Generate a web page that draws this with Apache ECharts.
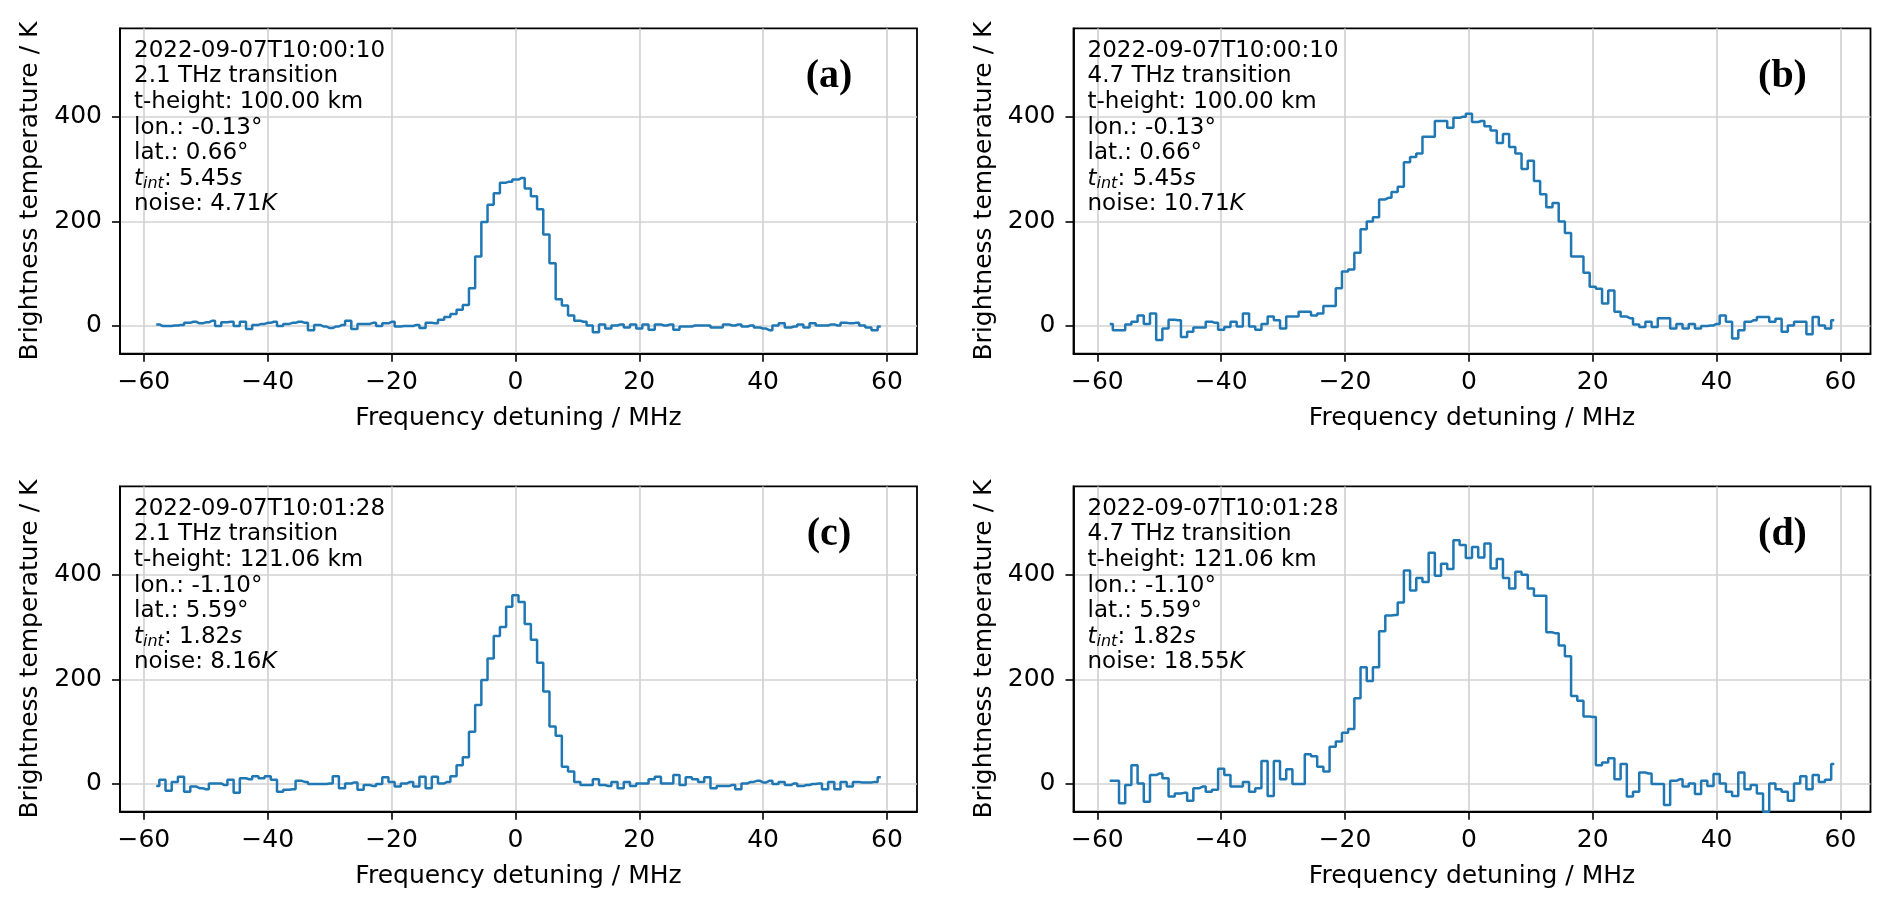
<!DOCTYPE html>
<html>
<head>
<meta charset="utf-8">
<title>Spectra</title>
<script src="https://cdn.jsdelivr.net/npm/echarts@6.0.0/dist/echarts.min.js"></script>
<style>
  html, body { margin: 0; padding: 0; background: #fff; }
  #main { width: 1892px; height: 909px; }
</style>
</head>
<body>
<div id="main"></div>
<script>
// frequency detuning in MHz (channel centres)
var freqs = [
  -58, -57, -56, -55, -54, -53, -52, -51, -50, -49, -48, -47, -46, -45, -44, -43, -42, -41, -40, -39,
  -38, -37, -36, -35, -34, -33, -32, -31, -30, -29, -28, -27, -26, -25, -24, -23, -22, -21, -20, -19,
  -18, -17, -16, -15, -14, -13, -12, -11, -10, -9, -8, -7, -6, -5, -4, -3, -2, -1, 0, 1,
  2, 3, 4, 5, 6, 7, 8, 9, 10, 11, 12, 13, 14, 15, 16, 17, 18, 19, 20, 21,
  22, 23, 24, 25, 26, 27, 28, 29, 30, 31, 32, 33, 34, 35, 36, 37, 38, 39, 40, 41,
  42, 43, 44, 45, 46, 47, 48, 49, 50, 51, 52, 53, 54, 55, 56, 57, 58, 59
];

// brightness temperature / K
var specA = [
  3, 0, 0, 1, 2, 6, 8, 5, 7, 10, 0, 7, 8, 0, 8, -6, 2, 4, 6, 8,
  0, 4, 6, 8, 6, -8, 2, -1, -4, -1, 2, 10, -6, 4, 4, 6, 0, 5, 8, -1,
  0, 0, 2, -4, 6, 5, 12,
  17, 23, 31, 40, 72, 133, 199, 232, 254, 274, 276, 280, 283, 263, 248, 223, 175, 120, 51, 39,
  20, 10, 8, 1, -12,
  3, -5, 1, 3, -3, 3, -5, 3, -7, 3, 1, 3, -7, -1, -1, 1, 1, 1, -3, -3,
  3, 1, 3, -1, 1, -3, -5, -8, 1, 5, -3, -1, 3, -3, 5, 1, 1, 3, 1, 6,
  5, 6, 1, -3, -8, -1
];
var specB = [
  4, -8, -8, 3, 8, 20, 4, 24, -27, -5, 12, 11, -21, -11, -3, -3, 8, 6, -7, -2,
  8, -1, 24, -1, -7, 4, 18, 11, -5, 18, 18, 27, 27, 20, 24,
  38, 38, 72, 104, 108, 140, 185, 200, 208, 242, 245, 256, 266, 313, 323, 330, 362, 362, 392, 392,
  379, 398, 400, 406,
  390, 392, 382, 374, 350, 367, 342, 330, 300, 316, 277, 252, 227, 235, 200, 178, 133, 133, 102, 75,
  71, 43, 68, 27, 18, 15, 3, -2, 8, -2, 15, 15, -5, 4, -5, 4, -5, 0, 1, 4,
  20, 8, -24, -8, 8, 11, 17, 17, 8, 14, -11, 1, 8, 8, -16, 17, 1, -5, 11
];
var specC = [
  -4, 8, -13, 4, 14, -15, -5, -8, -10, 1, 1, -2, 8, -17, 11, 9, 15, 11, 15, 8,
  -15, -11, -10, 6, 4, 0, 0, 0, 1, 15, -8, 1, 3, -11, -2, -4, 0, 13, 4, -5,
  1, 4, -5, 14, -8, 14, 1, 4, 15,
  36, 51, 100, 151, 199, 240, 283, 300, 339, 361, 348, 306, 276, 232, 177, 110, 92, 33, 24, 4,
  -2, -2,
  9, -2, -4, 4, -8, 4, -4, 1, 1, 9, 14, 1, 1, 17, -2, 13, 9, 4, 13, -8,
  -4, -4, -2, -10, 1, 4, 6, 3, 6, 0, 4, -2, 1, -4, -2, 0, 1, -10, 4, -10,
  4, -5, 4, 3, 3, 4, 13
];
var specD = [
  6, 6, -37, -2, 36, 1, -34, 17, 20, 11,
  -24, -18, -17, -32, -8, -5, -15, -11, 29, 17,
  -5, -5, 4, -15, -8, 44, -23, 44, 9, 28,
  0, 0, 57, 53, 33, 24, 71, 81, 98, 105,
  164, 223, 197, 223, 292, 322, 323, 347, 408, 370,
  394, 386, 442, 398, 421, 411, 466, 457, 432, 453,
  433, 460, 412, 430, 394, 374, 406, 400, 374, 360,
  360, 290, 288, 265, 244, 168, 159, 129, 128, 36,
  41, 49, 9, 38, -24, -15, 22, 20, 0, 0,
  -40, 6, 9, -5, 1, -19, 6, -4, 19, 1,
  -15, -23, 22, -10, -2, -18, -53, 1, -10, -15,
  -32, 1, 15, -10, 17, 4, 8, 38
];

var xTicks = [-60, -40, -20, 0, 20, 40, 60];
var yTicks = [0, 200, 400];

var panelTags = ['(a)', '(b)', '(c)', '(d)'];
var stamps = ['2022-09-07T10:00:10', '2022-09-07T10:00:10', '2022-09-07T10:01:28', '2022-09-07T10:01:28'];
var lines = ['2.1 THz transition', '4.7 THz transition', '2.1 THz transition', '4.7 THz transition'];
var heights = ['100.00 km', '100.00 km', '121.06 km', '121.06 km'];
var lons = ['-0.13°', '-0.13°', '-1.10°', '-1.10°'];
var lats = ['0.66°', '0.66°', '5.59°', '5.59°'];
var tints = ['5.45', '5.45', '1.82', '1.82'];
var noises = ['4.71', '10.71', '8.16', '18.55'];

var specs = [specA, specB, specC, specD];

var FONT = 'DejaVu Sans';
var boxes = [
  { left: 120, top: 28.4 },
  { left: 1073.5, top: 28.4 },
  { left: 120, top: 486.4 },
  { left: 1073.5, top: 486.4 }
];
var W = 797, H = 325.3;

function minus(v) { return String(v).replace('-', '\u2212'); }

var grids = [], xAxes = [], yAxes = [], series = [], graphics = [];

boxes.forEach(function (b, i) {
  grids.push({
    left: b.left, top: b.top, width: W, height: H,
    show: true, borderColor: '#000', borderWidth: 1.8, backgroundColor: 'transparent'
  });
  xAxes.push({
    type: 'value', gridIndex: i, min: -63.85, max: 64.85,
    name: 'Frequency detuning / MHz', nameLocation: 'middle', nameGap: 52,
    nameTextStyle: { fontFamily: FONT, fontSize: 25, color: '#000' },
    axisLine: { show: true, onZero: false, lineStyle: { color: '#000', width: 1.8 } },
    axisTick: { show: true, length: 8, customValues: xTicks, lineStyle: { color: '#000', width: 1.6 } },
    axisLabel: { customValues: xTicks, margin: 16, fontFamily: FONT, fontSize: 25, color: '#000', formatter: minus },
    splitLine: { show: true, lineStyle: { color: '#d2d2d2', width: 1.7 } }
  });
  yAxes.push({
    type: 'value', gridIndex: i, min: -53, max: 569,
    name: 'Brightness temperature / K', nameLocation: 'middle', nameGap: 77,
    nameTextStyle: { fontFamily: FONT, fontSize: 25, color: '#000' },
    axisLine: { show: true, onZero: false, lineStyle: { color: '#000', width: 1.8 } },
    axisTick: { show: true, length: 8, customValues: yTicks, lineStyle: { color: '#000', width: 1.6 } },
    axisLabel: { customValues: yTicks, margin: 18, fontFamily: FONT, fontSize: 25, color: '#000', formatter: minus },
    splitLine: { show: true, lineStyle: { color: '#d2d2d2', width: 1.7 } }
  });
  series.push({
    type: 'line', xAxisIndex: i, yAxisIndex: i, step: 'middle', symbol: 'none',
    lineStyle: { color: '#1f77b4', width: 2.5 },
    data: freqs.map(function (f, k) { return [f, specs[i][k]]; }),
    animation: false
  });
  var txt = [
    '{n|' + stamps[i] + '}',
    '{n|' + lines[i] + '}',
    '{n|t-height: ' + heights[i] + '}',
    '{n|lon.: ' + lons[i] + '}',
    '{n|lat.: ' + lats[i] + '}',
    '{it|t}{sub|int}{n|: ' + tints[i] + '}{it|s}',
    '{n|noise: ' + noises[i] + '}{it|K}'
  ].join('\n');
  graphics.push({
    type: 'text', left: b.left + 14, top: b.top + 11, z: 10,
    style: {
      text: txt, fill: '#000',
      rich: {
        n: { fontFamily: FONT, fontSize: 23, lineHeight: 25.6, fill: '#000' },
        it: { fontFamily: FONT, fontStyle: 'italic', fontSize: 23, lineHeight: 25.6, fill: '#000' },
        sub: { fontFamily: FONT, fontStyle: 'italic', fontSize: 16, lineHeight: 16, verticalAlign: 'bottom', fill: '#000' }
      }
    }
  });
  graphics.push({
    type: 'text', x: b.left + 709, y: b.top + 48, z: 10,
    style: {
      text: panelTags[i], fill: '#000',
      font: 'bold 40px "Liberation Serif"',
      align: 'center', verticalAlign: 'middle'
    }
  });
});

var chart = echarts.init(document.getElementById('main'), null, { renderer: 'canvas' });
chart.setOption({
  backgroundColor: '#fff',
  animation: false,
  grid: grids,
  xAxis: xAxes,
  yAxis: yAxes,
  series: series,
  graphic: graphics
});
</script>
</body>
</html>
